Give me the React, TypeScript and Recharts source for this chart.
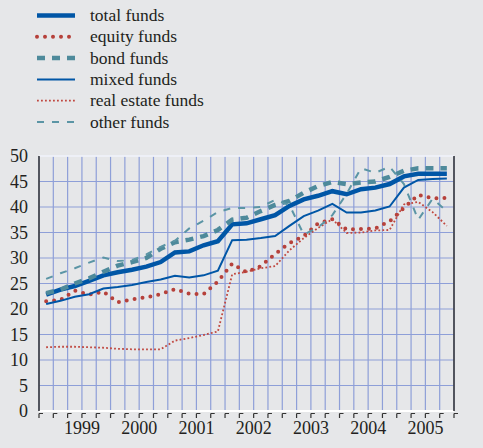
import { LineChart, Line, XAxis, YAxis, CartesianGrid, ReferenceLine } from 'recharts';

// quarterly points, 1998 Q4 .. 2005 Q4
const QUARTERS = [
  '1998Q4',
  '1999Q1', '1999Q2', '1999Q3', '1999Q4',
  '2000Q1', '2000Q2', '2000Q3', '2000Q4',
  '2001Q1', '2001Q2', '2001Q3', '2001Q4',
  '2002Q1', '2002Q2', '2002Q3', '2002Q4',
  '2003Q1', '2003Q2', '2003Q3', '2003Q4',
  '2004Q1', '2004Q2', '2004Q3', '2004Q4',
  '2005Q1', '2005Q2', '2005Q3', '2005Q4',
];

const YEARS = ['1999', '2000', '2001', '2002', '2003', '2004', '2005'];
const Y_TICKS = [0, 5, 10, 15, 20, 25, 30, 35, 40, 45, 50];

const totalFunds = [22.8, 23.8, 24.5, 25.5, 26.6, 27.2, 27.7, 28.3, 29.2, 31.1, 31.3, 32.5, 33.3, 36.6, 36.8, 37.6, 38.4, 40.2, 41.5, 42.2, 43.1, 42.5, 43.5, 43.8, 44.5, 46.0, 46.5, 46.5, 46.5];
const equityFunds = [21.5, 21.8, 23.6, 22.8, 23.4, 21.3, 21.9, 22.3, 22.9, 23.9, 23.0, 22.9, 25.4, 28.9, 27.2, 28.4, 30.8, 32.9, 34.3, 36.8, 37.6, 35.6, 35.7, 35.8, 37.2, 39.8, 42.4, 41.7, 41.8];
const bondFunds = [23.1, 23.8, 25.0, 26.0, 27.3, 28.5, 29.2, 30.0, 31.8, 33.1, 33.6, 34.3, 35.5, 37.5, 37.9, 39.2, 40.4, 41.2, 42.8, 44.1, 44.9, 44.5, 44.8, 45.0, 45.9, 47.1, 47.6, 47.6, 47.6];
const mixedFunds = [21.0, 21.6, 22.4, 22.9, 24.0, 24.3, 24.7, 25.3, 25.8, 26.5, 26.2, 26.6, 27.5, 33.5, 33.6, 33.9, 34.3, 36.3, 38.2, 39.3, 40.6, 38.9, 38.9, 39.3, 40.1, 43.8, 45.3, 45.5, 45.6];
const realEstateFunds = [12.5, 12.6, 12.6, 12.5, 12.4, 12.2, 12.1, 12.1, 12.1, 13.8, 14.3, 14.9, 15.6, 26.8, 27.3, 28.0, 28.4, 31.5, 33.9, 35.9, 37.6, 34.9, 35.0, 35.4, 35.5, 40.5, 41.0, 39.0, 36.3];
const otherFunds = [25.9, 27.0, 28.0, 29.1, 30.1, 29.4, 29.6, 30.7, 32.2, 33.4, 35.8, 37.3, 39.0, 39.8, 39.8, 40.0, 41.4, 40.4, 34.6, 36.0, 38.4, 42.6, 47.6, 46.7, 47.9, 44.5, 37.5, 41.6, 39.2];

const SERIES = [
  { key: 'total', name: 'total funds', color: '#0056a6', width: 4.5, dash: undefined, cap: 'butt' },
  { key: 'equity', name: 'equity funds', color: '#b6413b', width: 4, dash: '0 8', cap: 'round' },
  { key: 'bond', name: 'bond funds', color: '#4e8a9b', width: 4.5, dash: '8 7', cap: 'butt' },
  { key: 'mixed', name: 'mixed funds', color: '#0056a6', width: 2, dash: undefined, cap: 'butt' },
  { key: 'realEstate', name: 'real estate funds', color: '#c0473f', width: 1.8, dash: '1.8 2.2', cap: 'butt' },
  { key: 'other', name: 'other funds', color: '#5b95a5', width: 2, dash: '7 8', cap: 'butt' },
];

const data = QUARTERS.map((q, i) => ({
  q,
  x: i + 0.5,
  total: totalFunds[i],
  equity: equityFunds[i],
  bond: bondFunds[i],
  mixed: mixedFunds[i],
  realEstate: realEstateFunds[i],
  other: otherFunds[i],
}));

const X_TICKS = Array.from({ length: QUARTERS.length + 1 }, (_, i) => i);

const FONT = '"Liberation Serif", "DejaVu Serif", serif';
const TEXT = '#231f20';

function QuarterTick(props: any) {
  const { x, y, payload } = props;
  const v = payload.value;
  const isYear = v >= 3 && (v - 3) % 4 === 0 && (v - 3) / 4 < YEARS.length;
  return (
    <g>
      <path d={`M${x},${y + 2.5} H${x + 4} M${x},${y + 2.5} V${y + 7}`} stroke="#333" strokeWidth={1.2} fill="none" />
      {isYear && (
        <text x={x} y={y + 23} textAnchor="middle" fill={TEXT} fontSize={18} fontFamily={FONT}>
          {YEARS[(v - 3) / 4]}
        </text>
      )}
    </g>
  );
}

function LegendBox() {
  return (
    <svg width={260} height={140} style={{ position: 'absolute', left: 0, top: 0 }}>
      {SERIES.map((s, i) => {
        const cy = 15.5 + i * 21.3;
        return (
          <g key={s.key}>
            <line x1={37} x2={75} y1={cy} y2={cy} stroke={s.color} strokeWidth={s.width} strokeDasharray={s.dash} strokeLinecap={s.cap as any} />
            <text x={90} y={cy + 5.6} fill={TEXT} fontSize={17.5} fontFamily={FONT}>{s.name}</text>
          </g>
        );
      })}
    </svg>
  );
}

export default function App() {
  return (
    <div style={{ position: 'absolute', left: 0, top: 0, width: 483, height: 448, background: '#e6e7e9', overflow: 'hidden' }}>
      <LegendBox />
      <div style={{ position: 'absolute', left: 0, top: 0 }}>
        <LineChart width={483} height={448} data={data} margin={{ top: 156, right: 0, bottom: 0, left: 0 }}>
          <CartesianGrid yAxisId="left" stroke="#8e9fd8" strokeWidth={1.2} />
          <XAxis
            dataKey="x"
            type="number"
            domain={[0, QUARTERS.length]}
            ticks={X_TICKS}
            interval={0}
            height={37}
            tickSize={0}
            tickMargin={0}
            axisLine={{ stroke: '#ffffff', strokeWidth: 2 }}
            tickLine={false}
            tick={<QuarterTick />}
          />
          <YAxis
            yAxisId="left"
            orientation="left"
            width={39}
            domain={[0, 50]}
            ticks={Y_TICKS}
            interval={0}
            tickSize={0}
            tickMargin={11}
            axisLine={{ stroke: '#333', strokeWidth: 1.5 }}
            tickLine={false}
            tick={{ fill: TEXT, fontSize: 18, fontFamily: FONT }}
          />
          <YAxis
            yAxisId="right"
            orientation="right"
            width={29}
            domain={[0, 50]}
            ticks={Y_TICKS}
            interval={0}
            tickSize={0}
            tickMargin={14}
            axisLine={{ stroke: '#333', strokeWidth: 1.5 }}
            tickLine={false}
            tick={{ fill: TEXT, fontSize: 18, fontFamily: FONT, textAnchor: 'start' }}
          />
          <ReferenceLine yAxisId="left" y={50} stroke="#ffffff" strokeWidth={1.5} />
          {SERIES.map((s) => (
            <Line
              key={s.key}
              yAxisId="left"
              type="linear"
              dataKey={s.key}
              name={s.name}
              stroke={s.color}
              strokeWidth={s.width}
              strokeDasharray={s.dash}
              strokeLinecap={s.cap as any}
              dot={false}
              activeDot={false}
              isAnimationActive={false}
            />
          ))}
        </LineChart>
      </div>
    </div>
  );
}
